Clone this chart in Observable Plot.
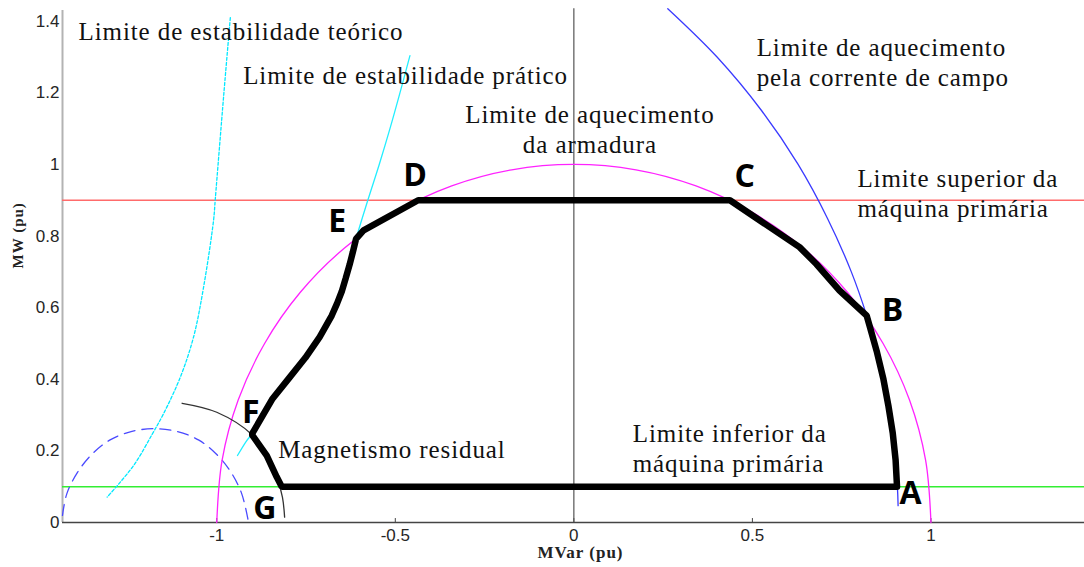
<!DOCTYPE html>
<html>
<head>
<meta charset="utf-8">
<script src="https://cdn.jsdelivr.net/npm/d3@7"></script>
<script src="https://cdn.jsdelivr.net/npm/@observablehq/plot@0.6"></script>
<style>
  html, body { margin: 0; padding: 0; background: #fff; }
  .serif text { letter-spacing: 0.9px; }
  .axlab text { letter-spacing: 1px; }
</style>
</head>
<body>
<div id="chart"></div>
<script>
// ---- axis ticks ----
const xTicks = [-1, -0.5, 0, 0.5, 1];
const yTicks = [0, 0.2, 0.4, 0.6, 0.8, 1, 1.2, 1.4];

// ---- horizontal limits (MW) ----
const upperPrimeMoverMW = 0.9;
const lowerPrimeMoverMW = 0.1;

// ---- armature heating limit (unit circle) ----
const armatureX = [-1, -0.985, -0.94, -0.866, -0.766, -0.643, -0.5, -0.342, -0.174, 0, 0.174, 0.342, 0.5, 0.643, 0.766, 0.866, 0.94, 0.985, 1];
const armatureY = [0, 0.174, 0.342, 0.5, 0.643, 0.766, 0.866, 0.94, 0.985, 1, 0.985, 0.94, 0.866, 0.766, 0.643, 0.5, 0.342, 0.174, 0];

// ---- field current heating limit ----
const fieldX = [0.263, 0.401, 0.526, 0.628, 0.710, 0.777, 0.820, 0.828, 0.867, 0.893, 0.906, 0.908];
const fieldY = [1.435, 1.3, 1.15, 1.0, 0.85, 0.7, 0.578, 0.55, 0.4, 0.25, 0.1, 0.047];

// ---- theoretical stability limit ----
const theoX = [-0.962, -0.980, -1.004, -1.009, -1.037, -1.065, -1.102, -1.149, -1.180, -1.233, -1.307];
const theoY = [1.41, 1.2, 0.905, 0.844, 0.657, 0.518, 0.406, 0.304, 0.248, 0.159, 0.071];

// ---- practical stability limit ----
const pracX = [-0.942, -0.916, -0.902, -0.845, -0.797, -0.752, -0.712, -0.678, -0.65, -0.628, -0.61, -0.577, -0.545, -0.515, -0.487, -0.459];
const pracY = [0.187, 0.229, 0.246, 0.344, 0.404, 0.46, 0.518, 0.578, 0.645, 0.72, 0.792, 0.9, 1.0, 1.1, 1.2, 1.304];

// ---- residual magnetism arc ----
const residX = [-1.097, -1.0, -0.902, -0.86, -0.832, -0.816, -0.81];
const residY = [0.333, 0.308, 0.246, 0.187, 0.127, 0.07, 0.015];

// ---- dashed circle ----
const dashX = [-1.432, -1.42, -1.39, -1.35, -1.30, -1.24, -1.175, -1.11, -1.05, -1.0, -0.96, -0.93, -0.911];
const dashY = [0.02, 0.08, 0.14, 0.19, 0.23, 0.254, 0.262, 0.254, 0.23, 0.19, 0.14, 0.08, 0];

// ---- operating region A..G ----
const regionX = [0.905, 0.901, 0.893, 0.881, 0.867, 0.849, 0.828, 0.820, 0.744, 0.679, 0.632, 0.437, -0.436, -0.589, -0.61, -0.619, -0.628, -0.639, -0.65, -0.663, -0.678, -0.712, -0.752, -0.797, -0.845, -0.902, -0.86, -0.832, -0.818, 0.905];
const regionY = [0.1, 0.175, 0.25, 0.325, 0.4, 0.475, 0.55, 0.578, 0.648, 0.722, 0.769, 0.9, 0.9, 0.816, 0.792, 0.755, 0.72, 0.682, 0.645, 0.612, 0.578, 0.518, 0.46, 0.404, 0.344, 0.246, 0.187, 0.127, 0.1, 0.1];

// ---- point letters ----
const letterText = ["A", "B", "C", "D", "E", "F", "G"];
const letterX = [0.912, 0.862, 0.450, -0.478, -0.688, -0.929, -0.898];
const letterY = [0.053, 0.564, 0.936, 0.941, 0.810, 0.279, 0.011];

// ---- annotations ----
const noteText = [
  "Limite de estabilidade teórico",
  "Limite de estabilidade prático",
  "Limite de aquecimento\npela corrente de campo",
  "Limite superior da\nmáquina primária",
  "Limite inferior da\nmáquina primária",
  "Magnetismo residual"
];
const noteX = [-1.387, -0.926, 0.512, 0.794, 0.165, -0.828];
const noteY = [1.349, 1.226, 1.218, 0.852, 0.142, 0.179];
const armatureNote = "Limite de aquecimento\nda armadura";
const armatureNoteX = 0.045;
const armatureNoteY = 1.031;

const xLabel = "MVar (pu)";
const yLabel = "MW (pu)";

const pts = (xs, ys) => xs.map((x, i) => ({x, y: ys[i]}));
const notes = noteText.map((t, i) => ({t, x: noteX[i], y: noteY[i]}));
const letters = letterText.map((t, i) => ({t, x: letterX[i], y: letterY[i]}));

const serif = "'Liberation Serif', 'Times New Roman', serif";

const chart = Plot.plot({
  width: 1084,
  height: 567,
  marginLeft: 62,
  marginRight: 0,
  marginTop: 10,
  marginBottom: 45,
  style: {fontFamily: "'Liberation Sans', Arial, sans-serif", fontSize: "17px", background: "#fff", color: "#262626"},
  x: {domain: [-1.432, 1.43], axis: null},
  y: {domain: [0, 1.43], axis: null},
  marks: [
    // axes
    Plot.ruleX([-1.432], {y1: 0, y2: 1.43, stroke: "#b3b3b3", strokeWidth: 2}),
    Plot.ruleY([0], {stroke: "#444", strokeWidth: 1.4}),
    Plot.ruleX(xTicks, {y1: 0, y2: 0.011, stroke: "#444", strokeWidth: 1}),
    Plot.axisX(xTicks, {label: null, tickSize: 0, tickPadding: 6, tickFormat: d => String(d), fill: "#262626", fontSize: 17}),
    Plot.axisY(yTicks, {label: null, tickSize: 0, tickPadding: 3, tickFormat: d => String(d), fill: "#262626", fontSize: 17}),
    // vertical at 0
    Plot.ruleX([0], {y1: 0, y2: 1.435, stroke: "#555", strokeWidth: 1.2}),
    // horizontal limits
    Plot.ruleY([upperPrimeMoverMW], {stroke: "#ff6b6b", strokeWidth: 1.6}),
    Plot.ruleY([lowerPrimeMoverMW], {stroke: "#33ee33", strokeWidth: 1.6}),
    // curves
    Plot.line(pts(dashX, dashY), {x: "x", y: "y", stroke: "#4a4aff", strokeWidth: 1.3, strokeDasharray: "11,7", curve: "catmull-rom"}),
    Plot.line(pts(theoX, theoY), {x: "x", y: "y", stroke: "#00e8ff", strokeWidth: 1.3, strokeDasharray: "3,2", curve: "catmull-rom"}),
    Plot.line(pts(pracX, pracY), {x: "x", y: "y", stroke: "#22eeff", strokeWidth: 1.3, curve: "catmull-rom"}),
    Plot.line(pts(armatureX, armatureY), {x: "x", y: "y", stroke: "#ff22ff", strokeWidth: 1.3, curve: "catmull-rom"}),
    Plot.line(pts(fieldX, fieldY), {x: "x", y: "y", stroke: "#3a3aff", strokeWidth: 1.3, curve: "catmull-rom"}),
    Plot.line(pts(residX, residY), {x: "x", y: "y", stroke: "#333", strokeWidth: 1.3, curve: "catmull-rom"}),
    // operating region
    Plot.line(pts(regionX, regionY), {x: "x", y: "y", stroke: "#000", strokeWidth: 6.5, strokeLinejoin: "miter", curve: "linear"}),
    // letters
    Plot.text(letters, {x: "x", y: "y", text: "t", textAnchor: "start", lineAnchor: "bottom", fontFamily: "'Open Sans', 'Noto Sans', sans-serif", fontWeight: "bold", fontSize: 32, fill: "#000"}),
    // annotations
    Plot.text(notes, {x: "x", y: "y", text: "t", textAnchor: "start", lineAnchor: "bottom", lineHeight: 1.2, fontFamily: serif, fontSize: 25, fill: "#111", className: "serif"}),
    Plot.text([armatureNote], {x: () => armatureNoteX, y: () => armatureNoteY, text: d => d, textAnchor: "middle", lineAnchor: "bottom", lineHeight: 1.2, fontFamily: serif, fontSize: 25, fill: "#111", className: "serif"}),
    // axis labels
    Plot.text([xLabel], {frameAnchor: "bottom", text: d => d, dx: 7, dy: 35, lineAnchor: "bottom", fontFamily: serif, fontWeight: "bold", fontSize: 17, fill: "#222", className: "axlab"}),
    Plot.text([yLabel], {frameAnchor: "left", text: d => d, dx: -44, dy: 2, rotate: -90, fontFamily: serif, fontWeight: "bold", fontSize: 15, fill: "#222", className: "axlab"})
  ]
});
document.getElementById("chart").appendChild(chart);
</script>
</body>
</html>
